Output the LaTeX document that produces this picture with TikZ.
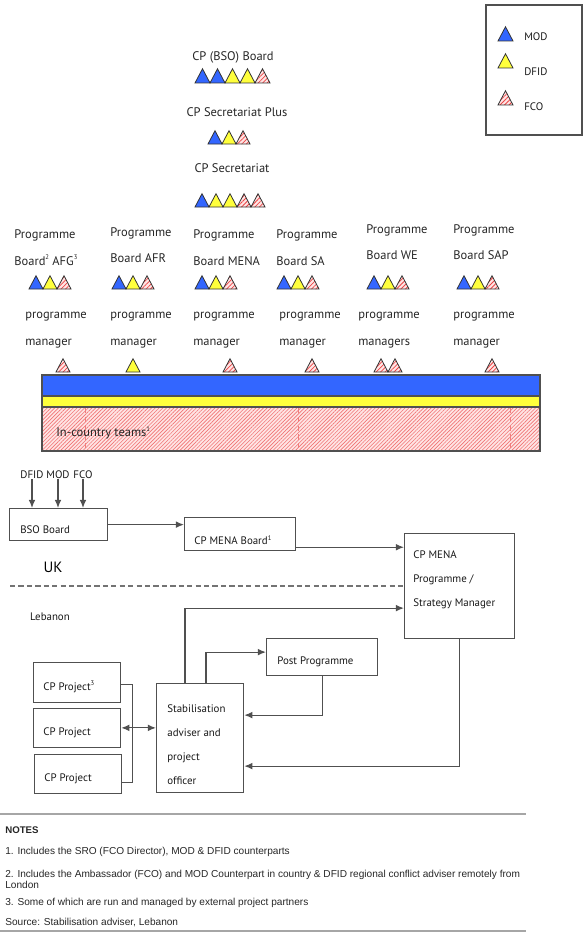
\documentclass[tikz,border=0pt]{standalone}
\usepackage{fontspec}
\setmainfont{PT Sans}
\newfontfamily\notefont{Liberation Sans}
\usetikzlibrary{calc,patterns.meta,positioning,arrows.meta}
\tikzset{>={Latex[length=4.6pt,width=3.8pt]}}
\definecolor{modblue}{RGB}{51,102,255}
\definecolor{dfidyellow}{RGB}{255,255,60}
\definecolor{fcopink}{RGB}{255,228,228}
\definecolor{fcored}{RGB}{235,70,70}
\definecolor{linegray}{RGB}{80,80,80}
\newlength{\pxu}\setlength{\pxu}{0.02cm}
\newcommand{\sups}[1]{\raisebox{0.85ex}{\fontsize{3.8}{4}\selectfont #1}}
\tikzset{
  mod/.style={fill=modblue, draw=black!80},
  dfid/.style={fill=dfidyellow, draw=black!80},
  fco/.style={draw=black!80, preaction={fill=fcopink},
    pattern={Lines[angle=45,distance=1.8pt,line width=0.45pt]}, pattern color=fcored},
  big/.style={font=\fontsize{7.1}{15}\selectfont, text=black!85, inner sep=0pt},
  small/.style={font=\fontsize{6.2}{13.6}\selectfont, text=black!90, inner sep=0pt},
  note/.style={font=\notefont\fontsize{5.75}{6.3}\selectfont, text=black!85, inner sep=0pt, anchor=west, align=left},
  box/.style={draw=linegray, line width=0.7pt, inner sep=0pt, anchor=north west},
  link/.style={draw=linegray, line width=0.7pt},
}
\newcommand{\tri}[4][14]{\path[#2, line width=0.45pt] (#3,#4) -- ++(#1,0) -- ++({-#1/2},{-0.95*#1}) -- cycle;}

\begin{document}
\begin{tikzpicture}[x=0.02cm, y=-0.02cm]
\useasboundingbox (0,0) rectangle (583,936);

% legend
\draw[linegray, line width=0.6pt] (486,5) rectangle (582,135);
\foreach \s/\y/\ty/\lab in {mod/41/37/MOD, dfid/68/72/DFID, fco/105/107/FCO}{
  \tri[15]{\s}{498}{\y}
  \node[small, anchor=west] (leg\s) at (524,\ty) {\lab};
}

% central boards
\node[big] (bsoboard) at (233,57) {CP (BSO) Board};
\foreach \s [count=\i from 0] in {mod,mod,dfid,dfid,fco} {\tri[15]{\s}{195+15*\i}{83}}
\node[big] (secplus) at (237,112) {CP Secretariat Plus};
\foreach \s [count=\i from 0] in {mod,dfid,fco} {\tri{\s}{208+14*\i}{144}}
\node[big] (sec) at (232,168) {CP Secretariat};
\foreach \s [count=\i from 0] in {mod,dfid,dfid,fco,fco} {\tri{\s}{195+14*\i}{207}}

% programme boards
\foreach \n/\x/\y/\tx/\lab in {afg/14/247.5/29/{Board\sups{2} AFG\sups{3}},
    afr/110/245/112/Board AFR, mena/193/247.5/195/Board MENA, sa/276/247.5/277/Board SA,
    we/366/242/367/Board WE, sap/453/242/457/Board SAP}{
  \node[big, anchor=west, align=left] (pb\n) at (\x,\y) {Programme\\\lab};
  \foreach \s [count=\i from 0] in {mod,dfid,fco} {\tri{\s}{\tx+14*\i}{289}}
}

% programme managers
\foreach \n/\x/\lab in {afg/25/manager, afr/110/manager, mena/193/manager,
    sa/279/manager, we/358/managers, sap/453/manager}{
  \node[big, anchor=west, align=left] (man\n) at (\x,330) {programme\\\lab};
}
\foreach \x/\s in {56/fco, 126/dfid, 223/fco, 305/fco, 374/fco, 388/fco, 485/fco} {\tri{\s}{\x}{372}}

% in-country band
\path[draw=linegray, line width=0.6pt, preaction={fill=fcopink},
  pattern={Lines[angle=45,distance=1.5pt,line width=0.35pt]}, pattern color=fcored!75] (42,407) rectangle (540,451);
\foreach \x in {85,298,510} \draw[fcored!70, densely dashed, line width=0.3pt] (\x,408) -- (\x,450);
\draw[fill=modblue, draw=linegray, line width=0.6pt] (42,375) rectangle (540,396);
\draw[fill=dfidyellow, draw=linegray, line width=0.6pt] (42,396) rectangle (540,407);
\node[big, anchor=west] (teams) at (56,433) {In-country teams\sups{1}};

% UK side
\node[box, minimum width=98\pxu, minimum height=32\pxu] (bso) at (9,508) {};
\node[small, anchor=west] at (20,530) {BSO Board};
\foreach \n/\x in {DFID/32, MOD/58, FCO/83}{
  \node[small] (\n) at (\x,475) {\n};
  \draw[link, ->] (\n.south) -- (\n.south |- bso.north);
}
\node[box, minimum width=111\pxu, minimum height=33\pxu] (menab) at (184,517) {};
\node[small, anchor=west] at (194,540) {CP MENA Board\sups{1}};
\draw[link, ->] (bso.east) -- (bso.east -| menab.west);
\node[box, minimum width=110\pxu, minimum height=105\pxu] (mgr) at (404,533) {};
\node[small, anchor=west, align=left] at (413,580) {CP MENA\\Programme /\\Strategy Manager};
\coordinate (mbout) at ($(menab.south east)+(0,-4)$);
\draw[link, ->] (mbout) -- (mbout -| mgr.west);
\node[font=\fontsize{8.5}{10}\selectfont, inner sep=0pt] (uk) at (53,567) {UK};
\coordinate (split) at (10,586);
\draw[linegray!80, line width=0.6pt, dash pattern=on 3pt off 1.8pt] (split) -- (split -| mgr.west);
\node[small] (leb) at (50,617) {Lebanon};

% Lebanon side
\node[box, minimum width=111\pxu, minimum height=37\pxu] (post) at (266,638) {};
\node[small, anchor=west] at (277,662) {Post Programme};
\node[box, minimum width=87\pxu, minimum height=109\pxu] (stab) at (156,683) {};
\node[small, anchor=west, align=left] at (167,745) {Stabilisation\\adviser and\\project\\officer};
\draw[link, ->] ($(stab.north west)+(29,0)$) |- ($(mgr.west)+(0,22)$);
\draw[link, ->] ($(stab.north west)+(50,0)$) |- ($(post.west)+(0,-5)$);
\draw[link, ->] (post.south) |- ($(stab.east)+(0,-23)$);
\draw[link, ->] (mgr.south) |- ($(stab.east)+(0,28)$);
\foreach \n/\x/\y/\lab in {p1/33/662/{CP Project\sups{3}}, p2/33/707.5/CP Project, p3/34/753.5/CP Project}{
  \node[box, minimum width=87\pxu, minimum height=39.5\pxu] (\n) at (\x,\y) {};
  \node[small, anchor=west] at (\x+10,\y+25) {\lab};
}
\draw[link] ($(p1.east)+(0,2.5)$) -- ++(11.5,0) |- ($(p3.east)+(0,9)$);
\draw[link, <->] (p2.east) -- (p2.east -| stab.west);

% notes
\draw[gray!70, line width=0.9pt] (0,814) -- (526,814);
\draw[gray!70, line width=0.9pt] (0,931) -- (526,931);
\node[note, font=\notefont\bfseries\fontsize{5.5}{6.3}\selectfont] (notes) at (5,830) {NOTES};
\node[note] (n1) at (5,852) {1. Includes the SRO (FCO Director), MOD \& DFID counterparts};
\node[note] (n2) at (5,879.5) {2. Includes the Ambassador (FCO) and MOD Counterpart in country \& DFID regional conflict adviser remotely from\\London};
\node[note] (n3) at (5,903) {3. Some of which are run and managed by external project partners};
\node[note] (src) at (5,922) {Source: Stabilisation adviser, Lebanon};
\end{tikzpicture}
\end{document}
